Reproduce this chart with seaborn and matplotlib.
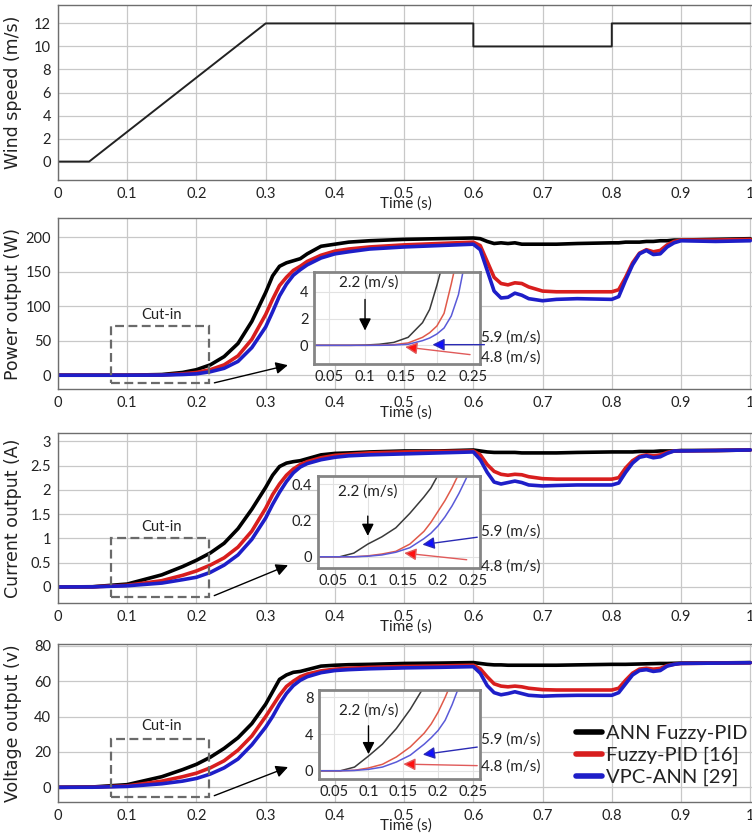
import matplotlib
matplotlib.use('Agg')
import matplotlib.pyplot as plt
import seaborn as sns
from matplotlib.patches import Rectangle
from matplotlib.ticker import FormatStrFormatter

# ---- data ----
t_wind = [0, 0.045, 0.3, 0.6, 0.6, 0.8, 0.8, 1.0]
wind = [0, 0, 12, 12, 10, 10, 12, 12]

t = [0, 0.05, 0.1, 0.15, 0.18, 0.2, 0.22, 0.24, 0.26, 0.28, 0.3, 0.31, 0.32, 0.33, 0.34, 0.35,
     0.36, 0.38, 0.4, 0.42, 0.45, 0.5, 0.55, 0.6, 0.61, 0.62, 0.63, 0.64, 0.65, 0.66, 0.67, 0.68,
     0.7, 0.72, 0.75, 0.8, 0.81, 0.82, 0.83, 0.84, 0.85, 0.86, 0.87, 0.88, 0.89, 0.9, 0.95, 1.0]

p_ann = [0, 0, 0, 1, 4, 8, 15, 27, 46, 78, 120, 144, 158, 163, 166, 169,
         176, 187, 190, 193, 195, 197, 198, 199, 198, 194, 191, 192, 191, 192, 190, 190,
         190, 190, 191, 192, 192, 193, 193, 193, 194, 194, 195, 195, 196, 196, 197, 198]
p_fuzzy = [0, 0, 0, 0.3, 2, 4, 8, 15, 28, 52, 88, 110, 130, 142, 152, 158,
           165, 174, 180, 183, 186, 189, 191, 193, 188, 165, 142, 133, 131, 134, 133, 128,
           122, 121, 121, 121, 124, 142, 163, 177, 182, 179, 181, 189, 194, 196, 196, 197]
p_vpc = [0, 0, 0, 0.2, 1, 2, 5, 10, 20, 40, 70, 92, 115, 132, 145, 153,
         160, 170, 176, 179, 183, 186, 188, 190, 182, 152, 122, 112, 113, 119, 116, 111,
         108, 110, 111, 110, 114, 138, 160, 176, 181, 175, 176, 186, 192, 195, 194, 195]

i_ann = [0, 0.005, 0.06, 0.25, 0.42, 0.55, 0.7, 0.9, 1.2, 1.6, 2.05, 2.3, 2.48, 2.55, 2.58, 2.6,
         2.64, 2.72, 2.75, 2.76, 2.78, 2.8, 2.8, 2.82, 2.8, 2.78, 2.77, 2.77, 2.77, 2.77, 2.76, 2.76,
         2.76, 2.76, 2.77, 2.78, 2.78, 2.78, 2.78, 2.79, 2.79, 2.79, 2.8, 2.8, 2.8, 2.81, 2.81, 2.82]
i_fuzzy = [0, 0.003, 0.035, 0.13, 0.24, 0.33, 0.45, 0.6, 0.82, 1.15, 1.62, 1.9, 2.12, 2.3, 2.43, 2.52,
           2.58, 2.66, 2.71, 2.73, 2.76, 2.78, 2.79, 2.8, 2.72, 2.52, 2.38, 2.32, 2.3, 2.32, 2.31, 2.27,
           2.23, 2.22, 2.22, 2.22, 2.25, 2.45, 2.6, 2.69, 2.72, 2.7, 2.72, 2.77, 2.8, 2.8, 2.81, 2.82]
i_vpc = [0, 0.002, 0.025, 0.08, 0.15, 0.2, 0.3, 0.45, 0.66, 0.98, 1.42, 1.7, 1.95, 2.17, 2.35, 2.47,
         2.54, 2.62, 2.67, 2.7, 2.72, 2.74, 2.76, 2.78, 2.62, 2.36, 2.16, 2.12, 2.15, 2.18, 2.15, 2.1,
         2.08, 2.09, 2.1, 2.1, 2.14, 2.36, 2.55, 2.67, 2.7, 2.66, 2.68, 2.75, 2.8, 2.8, 2.81, 2.82]

v_ann = [0, 0.2, 1.5, 6, 10, 13, 17, 22, 28, 36, 47, 54, 61, 63.5, 65, 65.5,
         66.5, 68.5, 69, 69.3, 69.5, 70, 70.2, 70.5, 70, 69.5, 69.2, 69.2, 69, 69, 69, 69,
         69, 69, 69.2, 69.5, 69.5, 69.5, 69.6, 69.7, 69.8, 69.9, 70, 70, 70.1, 70.2, 70.3, 70.5]
v_fuzzy = [0, 0.1, 0.8, 3.5, 6, 8, 11, 15, 21, 29, 40, 46, 52, 57, 60, 62.5,
           64, 65.8, 66.8, 67.3, 67.8, 68.3, 68.6, 69, 67, 62.5, 58.5, 57.2, 56.8, 57.2, 56.8, 56,
           55.2, 55, 55, 55, 56, 60.5, 64.5, 66.8, 67.3, 66.8, 67.2, 68.8, 69.5, 70, 70.2, 70.4]
v_vpc = [0, 0.05, 0.5, 2, 3.5, 5, 7.5, 11, 16, 24, 34, 40, 47, 53, 57.5, 60.5,
         62.5, 64.8, 66, 66.5, 67, 67.5, 67.8, 68.2, 64.5, 57.5, 53.5, 52.3, 53, 54, 53, 52,
         51.5, 51.8, 52, 52, 53.5, 58.5, 63.5, 66, 66.5, 65.5, 66, 68.5, 69.5, 70, 70.2, 70.4]

# zoomed cut-in region
t_zoom = [0.03, 0.06, 0.08, 0.1, 0.12, 0.14, 0.16, 0.18, 0.19, 0.2, 0.21, 0.22, 0.23, 0.24, 0.25, 0.26]
pz_ann = [0, 0, 0, 0.02, 0.08, 0.22, 0.6, 1.7, 2.7, 4.5, 6.5, 8, 9, 10, 11, 12]
pz_fuzzy = [0, 0, 0, 0, 0.01, 0.05, 0.18, 0.6, 0.95, 1.45, 2.4, 4.6, 7, 8, 9, 10]
pz_vpc = [0, 0, 0, 0, 0, 0.02, 0.08, 0.35, 0.55, 0.85, 1.3, 2.2, 3.8, 6.5, 8, 9]
iz_ann = [0, 0, 0.02, 0.07, 0.11, 0.16, 0.24, 0.33, 0.38, 0.45, 0.55, 0.62, 0.7, 0.8, 0.9, 1.0]
iz_fuzzy = [0, 0, 0, 0.005, 0.015, 0.03, 0.07, 0.14, 0.19, 0.25, 0.31, 0.38, 0.46, 0.55, 0.62, 0.7]
iz_vpc = [0, 0, 0, 0.003, 0.01, 0.025, 0.05, 0.1, 0.13, 0.17, 0.22, 0.28, 0.35, 0.43, 0.52, 0.6]
vz_ann = [0, 0, 0.4, 1.6, 2.9, 4.6, 6.7, 9.2, 10.5, 12, 13, 14, 15, 16, 17, 18]
vz_fuzzy = [0, 0, 0.05, 0.3, 0.7, 1.5, 2.6, 4.1, 5.1, 6.4, 8.0, 9.8, 11, 12, 13, 14]
vz_vpc = [0, 0, 0.03, 0.15, 0.4, 0.95, 1.7, 2.9, 3.6, 4.4, 5.5, 7.2, 9.2, 10.5, 11.5, 12.5]

labels = ['ANN Fuzzy-PID', 'Fuzzy-PID [16]', 'VPC-ANN [29]']
colors = ['#000000', '#d81e1e', '#1e1ec8']
zoom_colors = ['#3a3a3a', '#e05a4a', '#5a5ad8']

sns.set_theme(style='whitegrid')
plt.rcParams['font.family'] = ['Lato', 'DejaVu Sans']

W, H = 752, 836
fig = plt.figure(figsize=(W / 100, H / 100), dpi=100)
fig.patch.set_facecolor('white')


def px_axes(left, top, right, bottom):
    return fig.add_axes([left / W, 1 - bottom / H, (right - left) / W, (bottom - top) / H])


def style_main(ax, ylim, yticks, ylabel):
    ax.set_facecolor('white')
    ax.set_xlim(0, 1.004)
    ax.set_ylim(*ylim)
    ax.set_xticks([0, 0.1, 0.2, 0.3, 0.4, 0.5, 0.6, 0.7, 0.8, 0.9, 1.0])
    ax.set_yticks(yticks)
    ax.xaxis.set_major_formatter(FormatStrFormatter('%g'))
    ax.yaxis.set_major_formatter(FormatStrFormatter('%g'))
    ax.grid(True, color='#c8c8c8', lw=0.9)
    for s in ax.spines.values():
        s.set_color('#6e6e6e')
        s.set_linewidth(1.0)
    ax.tick_params(direction='in', length=4, color='#6e6e6e', labelsize=10.5, pad=5,
                   labelcolor='#222222')
    ax.set_xlabel('Time (s)', fontsize=11, labelpad=-3, color='#222222')
    ax.set_ylabel(ylabel, fontsize=12.5, family='DejaVu Sans', color='#222222')
    ax.yaxis.set_label_coords(-0.052, 0.5)


def style_zoom(ax, ylim, yticks):
    ax.set_facecolor('white')
    ax.set_xlim(0.029, 0.26)
    ax.set_ylim(*ylim)
    ax.set_xticks([0.05, 0.1, 0.15, 0.2, 0.25])
    ax.set_yticks(yticks)
    ax.xaxis.set_major_formatter(FormatStrFormatter('%g'))
    ax.yaxis.set_major_formatter(FormatStrFormatter('%g'))
    ax.grid(True, color='#e2e2e2', lw=0.8)
    for s in ax.spines.values():
        s.set_color('#858585')
        s.set_linewidth(2.0)
    ax.tick_params(length=0, labelsize=10.5, pad=4, labelcolor='#222222')
    ax.set_xlabel('')
    ax.set_ylabel('')


def cut_in(ax, y0, y1, ytxt, tip):
    ax.add_patch(Rectangle((0.077, y0), 0.141, y1 - y0, fill=False, ec='#6a6a6a',
                           lw=1.6, ls=(0, (4, 2)), zorder=4))
    ax.text(0.149, ytxt, 'Cut-in', ha='center', va='center', fontsize=10.5, color='#222222')
    ax.annotate('', xy=(0.336, tip), xytext=(0.222, y0),
                arrowprops=dict(arrowstyle='-|>', color='black', lw=1.0, mutation_scale=18),
                zorder=4)


def speeds(ax, a22, a59, a48):
    # a22: (t, text_y, tail_y, tip_y); a59/a48: (text_y, tail, tip)
    ax.text(a22[0], a22[1], '2.2 (m/s)', ha='center', va='center', fontsize=11, color='#222222')
    ax.annotate('', xy=(0.1, a22[3]), xytext=(0.1, a22[2]),
                arrowprops=dict(arrowstyle='-|>', color='black', lw=1.0, mutation_scale=18))
    ax.text(0.262, a59[0], '5.9 (m/s)', ha='left', va='center', fontsize=11,
            color='#222222', clip_on=False)
    ax.annotate('', xy=a59[2], xytext=a59[1], annotation_clip=False,
                arrowprops=dict(arrowstyle='-|>', ec='#2a2ab4', fc='#1010ff', lw=1.0,
                                mutation_scale=18))
    ax.text(0.262, a48[0], '4.8 (m/s)', ha='left', va='center', fontsize=11,
            color='#222222', clip_on=False)
    ax.annotate('', xy=a48[2], xytext=a48[1], annotation_clip=False,
                arrowprops=dict(arrowstyle='-|>', ec='#e05a5a', fc='#ff1010', lw=1.0,
                                mutation_scale=18))


# ---- panel 1: wind speed ----
ax1 = px_axes(58, 5, 753, 180)
sns.lineplot(x=t_wind, y=wind, ax=ax1, color='#222222', lw=1.4, sort=False, estimator=None)
style_main(ax1, (-1.6, 13.6), [0, 2, 4, 6, 8, 10, 12], 'Wind speed (m/s)')

# ---- panels 2-4 ----
panels = [
    dict(box=(58, 218, 753, 389), ylim=(-20, 228), yt=[0, 50, 100, 150, 200],
         ylabel='Power output (W)', series=[p_ann, p_fuzzy, p_vpc],
         zbox=(314, 272, 480, 364), zylim=(-1.4, 5.5), zyt=[0, 2, 4],
         zseries=[pz_ann, pz_fuzzy, pz_vpc], cut=(-12, 72, 88, 15.5),
         a22=(0.105, 4.7, 3.65, 0.9), a59=(0.55, (0.27, 0.05), (0.19, 0.05)),
         a48=(-0.95, (0.25, -0.72), (0.152, -0.1))),
    dict(box=(58, 433, 753, 603), ylim=(-0.33, 3.17), yt=[0, 0.5, 1, 1.5, 2, 2.5, 3],
         ylabel='Current output (A)', series=[i_ann, i_fuzzy, i_vpc],
         zbox=(318, 476, 480, 568), zylim=(-0.062, 0.446), zyt=[0, 0.2, 0.4],
         zseries=[iz_ann, iz_fuzzy, iz_vpc], cut=(-0.2, 1.0, 1.23, 0.47),
         a22=(0.1, 0.36, 0.24, 0.1), a59=(0.142, (0.26, 0.11), (0.174, 0.065)),
         a48=(-0.055, (0.245, -0.018), (0.148, 0.022))),
    dict(box=(58, 644, 753, 802), ylim=(-8.3, 81), yt=[0, 20, 40, 60, 80],
         ylabel='Voltage output (v)', series=[v_ann, v_fuzzy, v_vpc],
         zbox=(319, 690, 480, 779), zylim=(-0.9, 8.8), zyt=[0, 4, 8],
         zseries=[vz_ann, vz_fuzzy, vz_vpc], cut=(-5.3, 27.3, 34.6, 12),
         a22=(0.1, 6.6, 5.2, 1.5), a59=(3.35, (0.26, 2.62), (0.174, 1.72)),
         a48=(0.44, (0.26, 0.55), (0.146, 0.73))),
]

for k, pnl in enumerate(panels):
    ax = px_axes(*pnl['box'])
    last = k == len(panels) - 1
    for lab, col, ys in zip(labels, colors, pnl['series']):
        sns.lineplot(x=t, y=ys, ax=ax, color=col, lw=2.6, sort=False, estimator=None,
                     label=lab if last else None, legend=False)
    style_main(ax, pnl['ylim'], pnl['yt'], pnl['ylabel'])
    y0, y1, ytxt, tip = pnl['cut']
    cut_in(ax, y0, y1, ytxt, tip)

    if last:
        h, l = ax.get_legend_handles_labels()
        leg = ax.legend(h, l, loc='upper left', bbox_to_anchor=(0.745, 0.49), frameon=False,
                        fontsize=14.5, handlelength=1.3, handletextpad=0.2, labelspacing=0.25,
                        borderaxespad=0, borderpad=0)
        for ln in leg.get_lines():
            ln.set_linewidth(4)
        for tx in leg.get_texts():
            tx.set_color('#222222')

    axz = px_axes(*pnl['zbox'])
    axz.set_zorder(5)
    for col, ys in zip(zoom_colors, pnl['zseries']):
        sns.lineplot(x=t_zoom, y=ys, ax=axz, color=col, lw=1.1, sort=False, estimator=None)
    style_zoom(axz, pnl['zylim'], pnl['zyt'])
    speeds(axz, pnl['a22'], pnl['a59'], pnl['a48'])

fig.savefig('out.png', dpi=100, facecolor='white')
